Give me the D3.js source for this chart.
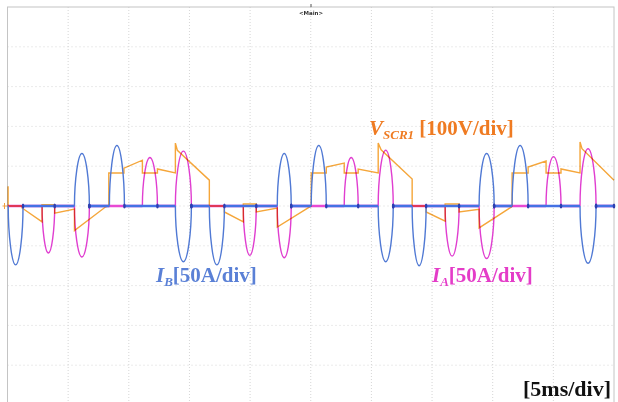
<!DOCTYPE html>
<html>
<head>
<meta charset="utf-8">
<script src="https://cdn.jsdelivr.net/npm/d3@7"></script>
<style>
  html, body { margin: 0; padding: 0; background: #fff; }
  svg { display: block; }
  .lbl { font-family: "Times New Roman", "Liberation Serif", serif; font-weight: bold; }
</style>
</head>
<body>
<svg id="scope" width="618" height="402"></svg>
<script>
// time in ms, currents in A, voltage in V
const timeSpan = [0, 50];
const currentSpan = [-250, 250];   // 50 A/div, 10 div
const voltageSpan = [-500, 500];   // 100 V/div

// I_B lobes: [start ms, end ms, peak A]
const ibLobes = [
  [0.06, 1.28, -74], [5.52, 6.75, 66], [8.40, 9.64, 76], [13.84, 15.16, -70],
  [16.64, 17.88, -74], [22.24, 23.39, 66], [25.04, 26.28, 76], [30.56, 31.80, -70],
  [33.36, 34.51, -75], [38.88, 40.12, 66], [41.60, 42.92, 76], [47.20, 48.52, -72]
];

// I_A lobes: [start ms, end ms, peak A]
const iaLobes = [
  [2.85, 3.89, -59], [5.52, 6.75, -64], [11.12, 12.36, 61], [13.84, 15.16, 69],
  [19.44, 20.51, -62], [22.24, 23.39, -65], [27.76, 28.91, 61], [30.56, 31.80, 70],
  [36.08, 37.23, -63], [38.88, 40.12, -66], [44.40, 45.63, 62], [47.20, 48.52, 72]
];

// V_SCR1 trace: [ms, V]
const vScr1 = [
  [0, 48], [0.05, 48], [0.05, 0],
  [1.20, 0], [1.20, -5], [2.85, -40], [2.85, 3], [3.89, 3], [3.89, -18], [5.52, -8],
  [5.52, -62], [8.10, -2], [8.35, 0], [8.35, 83], [9.60, 83], [9.60, 95], [11.12, 115],
  [11.12, 83], [12.36, 83], [12.36, 93], [13.84, 83], [13.84, 158], [14.00, 140],
  [16.64, 65], [16.64, 0],
  [17.88, 0], [17.88, -15], [19.44, -40], [19.44, 5], [20.51, 5], [20.51, -15], [22.24, -5],
  [22.24, -53], [24.88, -3], [25.04, 0], [25.04, 83], [26.28, 83], [26.28, 98], [27.76, 108],
  [27.76, 83], [28.91, 83], [28.91, 93], [30.56, 83], [30.56, 158], [30.80, 141],
  [33.36, 68], [33.36, 0],
  [34.51, 0], [34.51, -15], [36.08, -38], [36.08, 5], [37.23, 5], [37.23, -15], [38.88, -8],
  [38.88, -55], [41.52, -3], [41.60, 0], [41.60, 83], [42.92, 83], [42.92, 98], [44.40, 113],
  [44.40, 83], [45.63, 83], [45.63, 93], [47.20, 83], [47.20, 161], [47.36, 144],
  [50, 65]
];

const svg = d3.select("#scope");

let x = d3.scaleLinear().domain(timeSpan).range([7.5, 614]);
let yI = d3.scaleLinear().domain(currentSpan).range([405, 7]);
let yV = d3.scaleLinear().domain(voltageSpan).range([405, 7]);

// grid
let grid = svg.append("g").attr("class", "grid");
grid.selectAll(".vg").data(x.ticks(10).slice(1, -1)).join("line")
  .attr("x1", d => x(d)).attr("x2", d => x(d))
  .attr("y1", yI.range()[1]).attr("y2", yI.range()[0])
  .attr("stroke", "#d6d6d6").attr("stroke-dasharray", "1,2");
grid.selectAll(".hg").data(yI.ticks(10).slice(1, -1)).join("line")
  .attr("y1", d => yI(d)).attr("y2", d => yI(d))
  .attr("x1", x.range()[0]).attr("x2", x.range()[1])
  .attr("stroke", "#d6d6d6").attr("stroke-dasharray", "1,3");

// frame
svg.append("rect")
  .attr("x", x.range()[0]).attr("y", yI.range()[1])
  .attr("width", x.range()[1] - x.range()[0])
  .attr("height", yI.range()[0] - yI.range()[1])
  .attr("fill", "none").attr("stroke", "#c4c4c4").attr("stroke-width", 1);

svg.append("line").attr("x1", 311).attr("x2", 311).attr("y1", 4).attr("y2", 7)
  .attr("stroke", "#555");
svg.append("text").attr("x", 311).attr("y", 14.5).attr("text-anchor", "middle")
  .attr("font-family", "DejaVu Sans, sans-serif").attr("font-size", 5.5)
  .attr("font-weight", "bold").attr("fill", "#333").text("<Main>");

// rounded pulse: two bezier quarters, steep at the zero line, flat at the peak
const round = 0.5;
function lobePath(l) {
  let x0 = x(l[0]), x1 = x(l[1]), xm = (x0 + x1) / 2;
  let y0 = yI(0), yp = yI(l[2]);
  let p = d3.path();
  p.moveTo(x0, y0);
  p.bezierCurveTo(x0, y0 + (yp - y0) * round, xm - (xm - x0) * round, yp, xm, yp);
  p.bezierCurveTo(xm + (x1 - xm) * round, yp, x1, y0 + (yp - y0) * round, x1, y0);
  return p.toString();
}
// flat parts between lobes
function zeroGaps(lobes) {
  let gaps = [];
  let t = timeSpan[0];
  lobes.forEach(l => { if (l[0] > t) gaps.push([t, l[0]]); t = l[1]; });
  if (t < timeSpan[1]) gaps.push([t, timeSpan[1]]);
  return gaps;
}

function drawCurrent(lobes, color, zeroColor) {
  let g = svg.append("g");
  g.selectAll("line").data(zeroGaps(lobes)).join("line")
    .attr("x1", d => x(d[0])).attr("x2", d => x(d[1]))
    .attr("y1", yI(0)).attr("y2", yI(0))
    .attr("stroke", zeroColor).attr("stroke-width", 2.6);
  g.selectAll("path").data(lobes).join("path")
    .attr("d", lobePath)
    .attr("fill", "none").attr("stroke", color).attr("stroke-width", 1.4);
  return g;
}

// I_A underneath
drawCurrent(iaLobes, "#e03ed0", "#e84ad4");

// V_SCR1
svg.append("path")
  .datum(vScr1)
  .attr("d", d3.line().x(d => x(d[0])).y(d => yV(d[1])))
  .attr("fill", "none").attr("stroke", "#f5a63a").attr("stroke-width", 1.4)
  .style("mix-blend-mode", "multiply");

// I_B on top
drawCurrent(ibLobes, "#5079d4", "#4472e4");

// end-of-pulse marks
let ends = ibLobes.concat(iaLobes).map(l => l[1]).concat([timeSpan[1]]);
svg.append("g").selectAll("ellipse").data(ends).join("ellipse")
  .attr("cx", d => x(d)).attr("cy", yI(0))
  .attr("rx", 1.3).attr("ry", 2.6).attr("fill", "#2d3fb0");

// channel marker at the left
svg.append("path")
  .attr("d", `M${x(0) - 5},${yI(0)} h5 M${x(0) - 3},${yI(0) - 3} v6`)
  .attr("stroke", "#f0a040").attr("stroke-width", 1).attr("fill", "none");

// labels
let vLbl = svg.append("text").attr("class", "lbl").attr("x", 369).attr("y", 135)
  .attr("fill", "#ef7b22").attr("font-size", 21);
vLbl.append("tspan").attr("font-style", "italic").text("V");
vLbl.append("tspan").attr("font-style", "italic").attr("font-size", 13).attr("dy", 4).text("SCR1");
vLbl.append("tspan").attr("dy", -4).text(" [100V/div]");

function currentLabel(px, sub, color) {
  let t = svg.append("text").attr("class", "lbl").attr("x", px).attr("y", 282)
    .attr("fill", color).attr("font-size", 21);
  t.append("tspan").attr("font-style", "italic").text("I");
  t.append("tspan").attr("font-style", "italic").attr("font-size", 13).attr("dy", 4).text(sub);
  t.append("tspan").attr("dy", -4).text("[50A/div]");
}
currentLabel(156, "B", "#5a80d6");
currentLabel(432, "A", "#e43cc8");

svg.append("text").attr("class", "lbl").attr("x", 611).attr("y", 396)
  .attr("text-anchor", "end").attr("fill", "#111").attr("font-size", 22)
  .text("[5ms/div]");
</script>
</body>
</html>
